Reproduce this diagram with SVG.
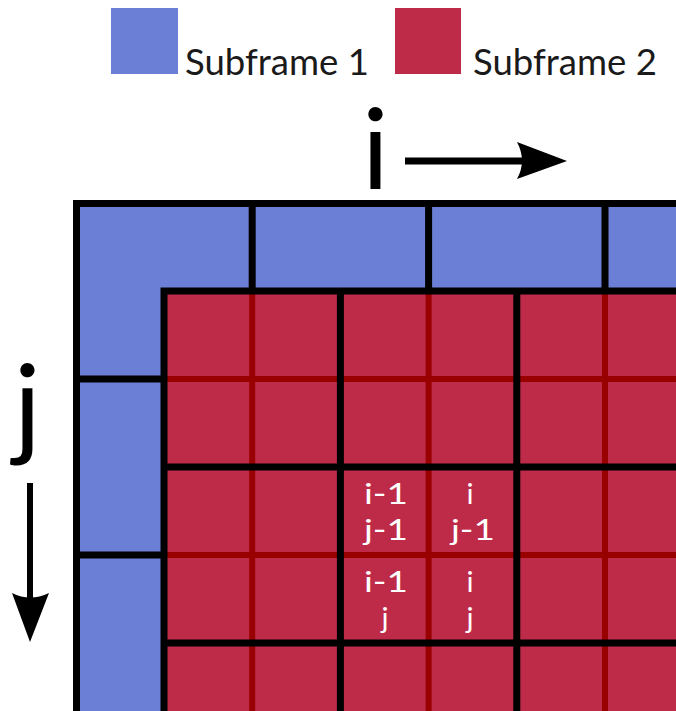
<svg xmlns="http://www.w3.org/2000/svg" width="676" height="711" viewBox="0 0 676 711">
<style>
.blue{fill:#6C7FD6}
.red{fill:#BE2B48}
.bk{stroke:#000;stroke-width:7;fill:none}
.dr{stroke:#990000;stroke-width:6;fill:none}
.leg{font-family:Lato,"Open Sans",sans-serif;font-size:37px;fill:#1a1a1a}
.ax{font-family:Lato,"Open Sans",sans-serif;font-size:112px;fill:#000}
.lab{font-family:Lato,"Open Sans",sans-serif;font-size:29.5px;fill:#fff;text-anchor:middle}
</style>
<rect width="676" height="711" fill="#fff"/>
<g id="legend">
<g id="legend-subframe1">
<rect class="blue" x="111" y="8" width="67" height="66"/>
<text class="leg" x="185" y="75" textLength="184" lengthAdjust="spacingAndGlyphs">Subframe 1</text>
</g>
<g id="legend-subframe2">
<rect class="red" x="395" y="8" width="66" height="66"/>
<text class="leg" x="473" y="75" textLength="184" lengthAdjust="spacingAndGlyphs">Subframe 2</text>
</g>
</g>
<g id="axis-labels">
<text class="ax" x="362" y="190">i</text>
<text class="ax" x="14" y="446">j</text>
</g>
<g id="connectors">
<line x1="405" y1="161" x2="525" y2="161" stroke="#000" stroke-width="7"/>
<path d="M567,161 L517,142 Q527,161 517,179 Z" fill="#000"/>
<line x1="30" y1="483" x2="30" y2="600" stroke="#000" stroke-width="6"/>
<path d="M30,642 L12,593 Q30,602 49,593 Z" fill="#000"/>
</g>
<g id="grid">
<g id="subframe1">
<rect class="blue" x="76.5" y="203.5" width="600" height="510"/>
</g>
<g id="subframe2">
<rect class="red" x="164" y="291" width="513" height="422"/>
</g>
<g id="subframe2-inner-lines">
<path class="dr" d="M252.2,291V711M428.6,291V711M605,291V711M164,379H676M164,555H676"/>
</g>
<g id="subframe1-lines">
<path class="bk" d="M76.5,200V711M73,203.5H676M252.2,203.5V291M428.6,203.5V291M605,203.5V291M76.5,379H164M76.5,555H164"/>
</g>
<g id="subframe2-lines">
<path class="bk" d="M164,287.5V711M160.5,291H676M340.4,291V711M516.8,291V711M164,467H676M164,643H676"/>
</g>
</g>
<g id="cell-labels">
<g id="cell-i1-j1"><text class="lab" x="386" y="504" textLength="44" lengthAdjust="spacingAndGlyphs">i-1</text><text class="lab" x="386" y="540" textLength="44" lengthAdjust="spacingAndGlyphs">j-1</text></g>
<g id="cell-i-j1"><text class="lab" x="470" y="504">i</text><text class="lab" x="473" y="540" textLength="44" lengthAdjust="spacingAndGlyphs">j-1</text></g>
<g id="cell-i1-j"><text class="lab" x="386" y="592" textLength="44" lengthAdjust="spacingAndGlyphs">i-1</text><text class="lab" x="385" y="628">j</text></g>
<g id="cell-i-j"><text class="lab" x="470" y="592">i</text><text class="lab" x="470" y="628">j</text></g>
</g>
</svg>
